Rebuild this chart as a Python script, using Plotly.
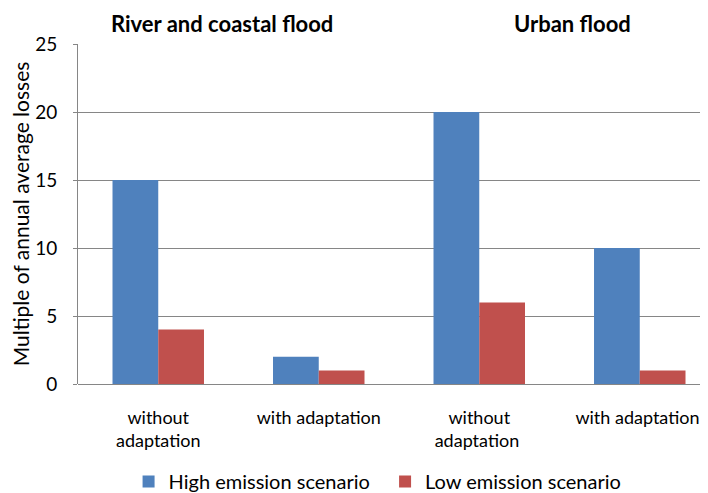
import plotly.graph_objects as go

categories = ["without<br>adaptation", "with adaptation", "without<br>adaptation ", "with adaptation "]
high_emission = [15, 2, 20, 10]
low_emission = [4, 1, 6, 1]
y_ticks = [0, 5, 10, 15, 20, 25]
group_titles = ["River and coastal flood", "Urban flood"]
series_names = ["High emission scenario", "Low emission scenario"]

FONT = "Lato"
fig = go.Figure()
fig.add_bar(x=categories, y=high_emission, name=series_names[0] + "\u00a0" * 2,
            marker=dict(color="#4F81BD", line=dict(width=0)))
fig.add_bar(x=categories, y=low_emission, name=series_names[1],
            marker=dict(color="#C0504D", line=dict(width=0)))

fig.add_annotation(x=0.397, y=1.0, xref="x", yref="paper", yanchor="bottom", yshift=5,
                   text="<b>" + group_titles[0] + "</b>", showarrow=False,
                   font=dict(family=FONT, size=22, color="black"))
fig.add_annotation(x=2.58, y=1.0, xref="x", yref="paper", yanchor="bottom", yshift=5,
                   text="<b>" + group_titles[1] + "</b>", showarrow=False,
                   font=dict(family=FONT, size=22, color="black"))

fig.update_layout(
    width=708, height=493,
    margin=dict(l=70, r=0, t=36, b=117),
    paper_bgcolor="white", plot_bgcolor="white",
    barmode="group", bargap=0.43, bargroupgap=0,
    font=dict(family=FONT, size=18, color="black"),
    showlegend=True,
    legend=dict(orientation="h", xref="container", x=0.522, xanchor="center",
                yref="container", y=0.0, yanchor="bottom",
                font=dict(family=FONT, size=20), traceorder="normal", itemwidth=30),
    xaxis=dict(range=[-0.5, 3.475], showline=False, ticks="", showgrid=False,
               tickfont=dict(family=FONT, size=18), ticklabelstandoff=21,
               automargin=False),
    yaxis=dict(range=[0, 25], tickvals=y_ticks, showgrid=True, gridcolor="#868686",
               gridwidth=1, showline=True, linecolor="#868686", linewidth=1,
               ticks="outside", ticklen=4, tickcolor="#868686",
               zeroline=True, zerolinecolor="#868686", zerolinewidth=1,
               tickfont=dict(family=FONT, size=19), ticklabelstandoff=12,
               title=dict(text="Multiple of annual average losses",
                          font=dict(family=FONT, size=21), standoff=15),
               automargin=False),
)
fig.write_html("out.html")
